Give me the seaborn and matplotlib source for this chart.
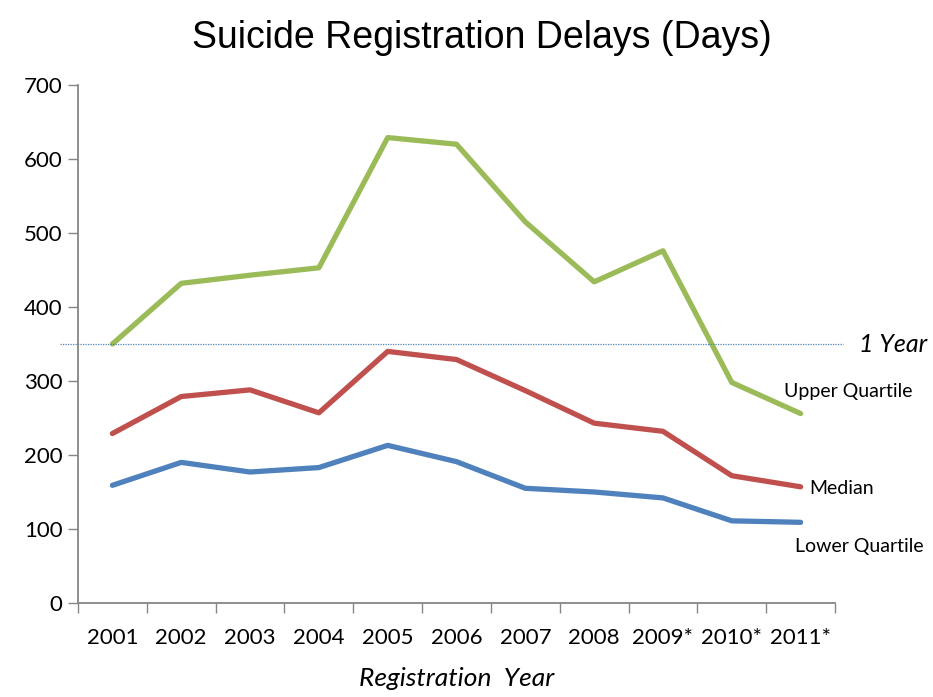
import matplotlib
matplotlib.use("Agg")
import matplotlib.pyplot as plt
import numpy as np
import pandas as pd
import seaborn as sns

# Registration delays (days)
years = ["2001", "2002", "2003", "2004", "2005", "2006", "2007", "2008", "2009*", "2010*", "2011*"]
upper_quartile = [350, 432, 443, 453, 629, 620, 515, 434, 476, 298, 256]
median = [229, 279, 288, 257, 340, 329, 287, 243, 232, 172, 157]
lower_quartile = [159, 190, 177, 183, 213, 191, 155, 150, 142, 111, 109]
one_year = 350

series_colors = {"Upper Quartile": "#9BBB59", "Median": "#C0504D", "Lower Quartile": "#4F81BD"}

sns.set_theme(style="white")
plt.rcParams["font.family"] = ["Lato", "DejaVu Sans"]
plt.rcParams["text.color"] = "black"
plt.rcParams["axes.labelcolor"] = "black"

df = pd.DataFrame({
    "pos": np.tile(np.arange(len(years)), 3),
    "days": upper_quartile + median + lower_quartile,
    "series": ["Upper Quartile"] * len(years) + ["Median"] * len(years) + ["Lower Quartile"] * len(years),
})

fig = plt.figure(figsize=(9.33, 6.97), dpi=100)
ax = fig.add_axes([0.0836, 0.1349, 0.8114, 0.7431])

sns.lineplot(data=df, x="pos", y="days", hue="series", palette=series_colors,
             linewidth=3.8, legend=False, ax=ax)
for line in ax.get_lines():
    line.set_solid_capstyle("round")

# dotted "1 Year" reference line, running a little past the axes
ax.axhline(one_year, xmin=-0.024, xmax=1.011, color="#4F81BD", linestyle=(0, (1, 1)),
           linewidth=0.9, clip_on=False)
ax.text(1.031, one_year / 700, "1 Year", transform=ax.transAxes, ha="left", va="center",
        fontsize=18, style="italic")

ax.set_xlim(-0.5, len(years) - 0.5)
ax.set_ylim(0, 700)
ax.set_yticks(range(0, 701, 100))
ax.set_xticks(np.arange(len(years)))
ax.set_xticklabels(years)
ax.set_xticks(np.arange(len(years) + 1) - 0.5, minor=True)

ax.tick_params(axis="y", which="major", length=7, width=1, color="#868686", direction="out",
               labelsize=16, labelcolor="black", pad=4, left=True)
ax.tick_params(axis="x", which="major", length=0, labelsize=16, labelcolor="black", pad=18)
ax.tick_params(axis="x", which="minor", length=7, width=1, color="#868686", direction="out", bottom=True)

for side in ["top", "right"]:
    ax.spines[side].set_visible(False)
for side in ["left", "bottom"]:
    ax.spines[side].set_color("#868686")
    ax.spines[side].set_linewidth(1.3)

# series labels at the right end
ax.text(9.76, 286, "Upper Quartile", fontsize=14, ha="left", va="center")
ax.text(10.12, 155, "Median", fontsize=14, ha="left", va="center")
ax.text(9.92, 76, "Lower Quartile", fontsize=14, ha="left", va="center")

fig.text(0.517, 0.945, "Suicide Registration Delays (Days)", ha="center", va="center",
         fontsize=27, family=["Liberation Sans", "DejaVu Sans"])
ax.set_xlabel("Registration  Year", fontsize=19, style="italic", labelpad=14)
ax.set_ylabel("")

fig.savefig("out.png", dpi=100)
